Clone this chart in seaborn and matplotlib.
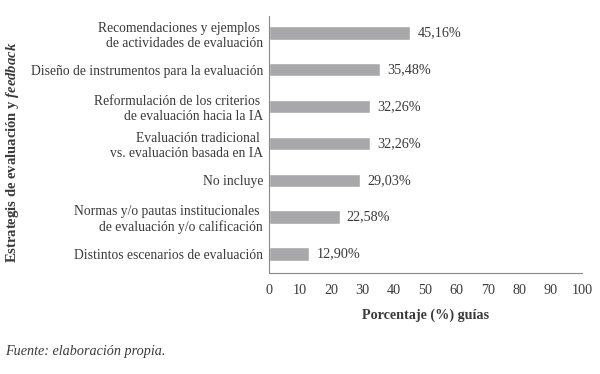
import matplotlib
matplotlib.use("Agg")
import matplotlib.pyplot as plt
import seaborn as sns
import pandas as pd

categorias = [
    "Recomendaciones y ejemplos \nde actividades de evaluación",
    "Diseño de instrumentos para la evaluación",
    "Reformulación de los criterios \nde evaluación hacia la IA",
    "Evaluación tradicional \nvs. evaluación basada en IA",
    "No incluye",
    "Normas y/o pautas institucionales \nde evaluación y/o calificación",
    "Distintos escenarios de evaluación",
]
porcentajes = [45.16, 35.48, 32.26, 32.26, 29.03, 22.58, 12.90]
etiquetas = ["45,16%", "35,48%", "32,26%", "32,26%", "29,03%", "22,58%", "12,90%"]
xticks = [0, 10, 20, 30, 40, 50, 60, 70, 80, 90, 100]

df = pd.DataFrame({"cat": categorias, "pct": porcentajes})

sns.set_style("white")
plt.rcParams["font.family"] = ["Liberation Serif", "DejaVu Serif"]
plt.rcParams["mathtext.fontset"] = "custom"
plt.rcParams["mathtext.it"] = "Liberation Serif:italic:bold"
plt.rcParams["mathtext.rm"] = "Liberation Serif:bold"

texto = "#3a3a3a"
gris = "#a8a8aa"
fs = 9.8

fig = plt.figure(figsize=(6, 3.74), dpi=100)
ax = fig.add_axes([0.448, 0.27, 0.522, 0.687])

sns.barplot(data=df, x="pct", y="cat", color=gris, width=0.36, saturation=1,
            ax=ax, orient="h")

for i, (v, t) in enumerate(zip(porcentajes, etiquetas)):
    ax.text(v + 2.3, i, t, va="center", ha="left", fontsize=10.2, color=texto)

ax.set_xlim(0, 100)
ax.set_ylim(6.52, -0.46)
ax.set_xticks(xticks)
ax.set_xticklabels([str(x) for x in xticks], fontsize=10.2, color=texto)
ax.tick_params(axis="x", direction="in", length=5, width=0.8, color="#777777", pad=8)
ax.tick_params(axis="y", length=0, pad=4, labelsize=fs, labelcolor=texto)
for lbl in ax.get_yticklabels():
    lbl.set_horizontalalignment("right")
    lbl.set_multialignment("right")

for s in ["top", "right"]:
    ax.spines[s].set_visible(False)
for s in ["left", "bottom"]:
    ax.spines[s].set_color("#888888")
    ax.spines[s].set_linewidth(0.8)

ax.set_xlabel("Porcentaje (%) guías", fontsize=10.2, fontweight="bold",
              color=texto, labelpad=8)
ax.set_ylabel(r"Estrategis de evaluación y $\mathit{feedback}$", fontsize=10.5,
              fontweight="bold", color=texto)
ax.yaxis.set_label_coords(-0.79, 0.47)

fig.text(0.008, 0.05, "Fuente: elaboración propia.", fontsize=10.2,
         style="italic", color=texto)

plt.savefig("out.png", dpi=100)
